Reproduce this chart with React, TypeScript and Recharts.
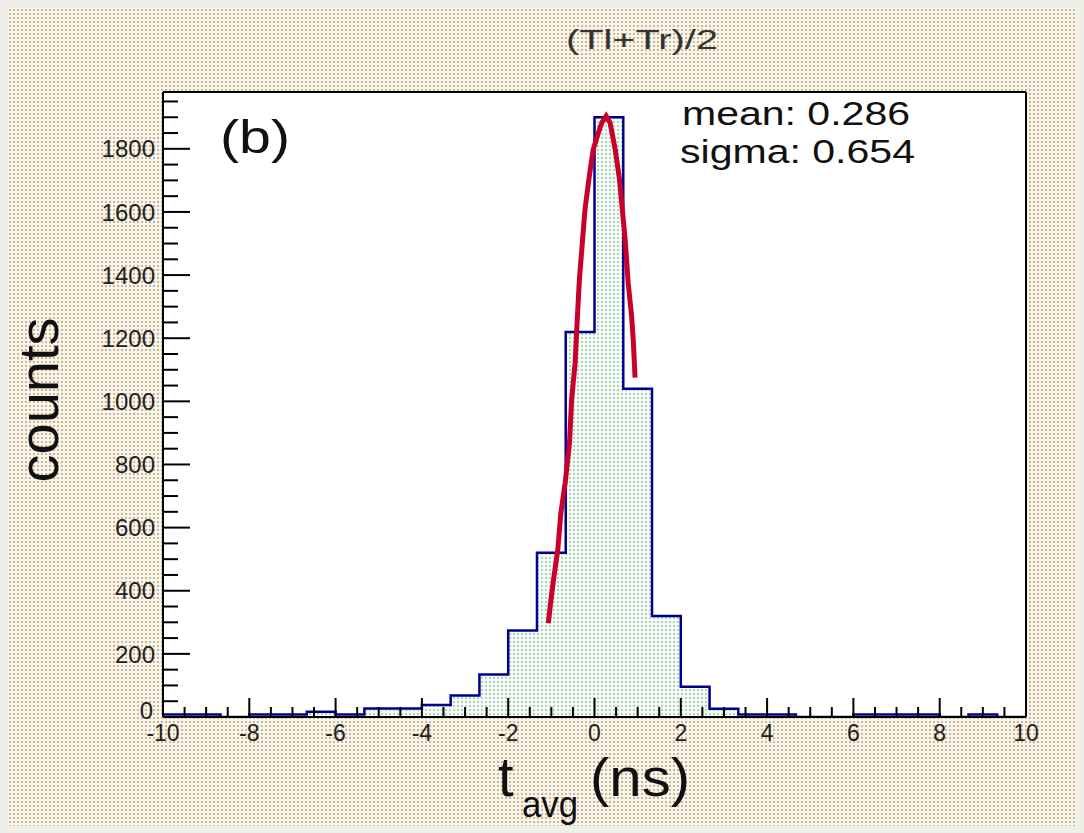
import React from 'react';
import { ComposedChart, Area, Line, XAxis, YAxis, CartesianGrid, ReferenceLine } from 'recharts';

// Histogram bins (lower edges, width 2/3 ns) and counts
const binStarts = [
  -10, -9.333, -8.667, -8, -7.333, -6.667, -6, -5.333, -4.667, -4,
  -3.333, -2.667, -2, -1.333, -0.667, 0, 0.667, 1.333, 2, 2.667,
  3.333, 4, 4.667, 5.333, 6, 6.667, 7.333, 8, 8.667, 9.333,
];
const binEnd = 10;
const counts = [
  8, 8, 0, 8, 8, 17, 8, 27, 27, 38,
  68, 135, 274, 520, 1220, 1900, 1040, 320, 96, 26,
  8, 8, 0, 0, 8, 8, 8, 0, 8, 0,
];

// Gaussian fit curve
const fitX = [
  -1.07, -1.01, -0.94, -0.85, -0.78, -0.68, -0.58, -0.53, -0.45, -0.4,
  -0.35, -0.27, -0.22, -0.12, -0.03, 0.09, 0.17, 0.27, 0.36, 0.48,
  0.58, 0.63, 0.71, 0.78, 0.86, 0.9, 0.94,
];
const fitY = [
  297, 371, 445, 530, 646, 741, 868, 1005, 1120, 1259,
  1386, 1523, 1608, 1714, 1798, 1851, 1883, 1904, 1883, 1798,
  1703, 1629, 1513, 1376, 1270, 1190, 1075,
];

// Axis ticks
const xTicks = [
  -10, -9.5, -9, -8.5, -8, -7.5, -7, -6.5, -6, -5.5, -5, -4.5, -4, -3.5, -3, -2.5, -2, -1.5, -1, -0.5,
  0, 0.5, 1, 1.5, 2, 2.5, 3, 3.5, 4, 4.5, 5, 5.5, 6, 6.5, 7, 7.5, 8, 8.5, 9, 9.5, 10,
];
const xMajorLabels = [-10, -8, -6, -4, -2, 0, 2, 4, 6, 8, 10];
const yTicks = [
  0, 50, 100, 150, 200, 250, 300, 350, 400, 450, 500, 550, 600, 650, 700, 750, 800, 850, 900, 950,
  1000, 1050, 1100, 1150, 1200, 1250, 1300, 1350, 1400, 1450, 1500, 1550, 1600, 1650, 1700, 1750, 1800, 1850, 1900, 1950,
];
const yMajorLabels = [0, 200, 400, 600, 800, 1000, 1200, 1400, 1600, 1800];

const histData = [
  ...binStarts.map((x, i) => ({ x, y: counts[i] })),
  { x: binEnd, y: counts[counts.length - 1] },
];
const fitData = fitX.map((x, i) => ({ x, y: fitY[i] }));

const W = 1068;
const H = 818;
const FONT = '"Liberation Sans", Arial, Helvetica, sans-serif';

const XTick = (props: any) => {
  const { x, y, payload } = props;
  const v = payload.value;
  const major = xMajorLabels.includes(v);
  return (
    <g>
      <line x1={x} x2={x} y1={y} y2={y - (major ? 19 : 10)} stroke="#000" strokeWidth={2} />
      {major && (
        <text x={x} y={y + 24} textAnchor="middle" fontSize={23} fill="#222" fontFamily={FONT}>
          {v}
        </text>
      )}
    </g>
  );
};

const YTick = (props: any) => {
  const { x, y, payload } = props;
  const v = payload.value;
  const major = yMajorLabels.includes(v);
  const isZero = v === 0;
  return (
    <g>
      <line x1={x} x2={x + (major ? 27 : 15)} y1={y} y2={y} stroke="#000" strokeWidth={2} />
      {major && (
        <text
          x={x - (isZero ? 10 : 8)}
          y={y - (isZero ? 7 : 0)}
          dy="0.36em"
          textAnchor="end"
          fontSize={24}
          fill="#222"
          fontFamily={FONT}
        >
          {v}
        </text>
      )}
    </g>
  );
};

export default function App() {
  return (
    <>
      <style>{`body{background:#efefea;}`}</style>
      <div
        style={{
          position: 'relative',
          width: W,
          height: H,
          backgroundColor: '#f8f5ee',
          backgroundImage: 'radial-gradient(circle at 2px 2px, #cdb78c 0.8px, rgba(248,245,238,0) 1.4px)',
          backgroundSize: '4px 4px',
        }}
      >
        <ComposedChart
          width={W}
          height={H}
          margin={{ top: 84, right: 50, bottom: 59, left: 0 }}
        >
          <defs>
            <pattern id="greenDots" width="4" height="4" patternUnits="userSpaceOnUse">
              <rect width="4" height="4" fill="#f6faf6" />
              <circle cx="2" cy="2" r="0.9" fill="#8fc4a0" />
            </pattern>
          </defs>
          <CartesianGrid fill="#ffffff" horizontal={false} vertical={false} stroke="none" />
          <Area
            data={histData}
            dataKey="y"
            type="stepAfter"
            stroke="#00008f"
            strokeWidth={2.5}
            fill="url(#greenDots)"
            fillOpacity={1}
            isAnimationActive={false}
            dot={false}
            activeDot={false}
          />
          <Line
            data={fitData}
            dataKey="y"
            type="linear"
            stroke="#c8002c"
            strokeWidth={5}
            dot={false}
            activeDot={false}
            isAnimationActive={false}
          />
          <ReferenceLine y={1980} stroke="#000" strokeWidth={2} />
          <ReferenceLine x={10} stroke="#000" strokeWidth={2} />
          <XAxis
            dataKey="x"
            type="number"
            domain={[-10, 10]}
            ticks={xTicks}
            interval={0}
            height={50}
            tickLine={false}
            tickSize={0}
            tickMargin={0}
            tick={(p: any) => <XTick {...p} />}
            axisLine={{ stroke: '#000', strokeWidth: 2 }}
            allowDataOverflow
          />
          <YAxis
            type="number"
            domain={[0, 1980]}
            ticks={yTicks}
            interval={0}
            width={155}
            tickLine={false}
            tickSize={0}
            tickMargin={0}
            tick={(p: any) => <YTick {...p} />}
            axisLine={{ stroke: '#000', strokeWidth: 2 }}
            allowDataOverflow
          />
        </ComposedChart>
        <svg
          width={W}
          height={H}
          style={{ position: 'absolute', left: 0, top: 0, pointerEvents: 'none' }}
          fontFamily={FONT}
        >
          <text x={558} y={41} fontSize={27} fill="#333" textLength={152} lengthAdjust="spacingAndGlyphs">
            (Tl+Tr)/2
          </text>
          <text x={212} y={145} fontSize={46} fill="#111" textLength={70} lengthAdjust="spacingAndGlyphs">
            (b)
          </text>
          <text x={674} y={117} fontSize={33} fill="#111" textLength={228} lengthAdjust="spacingAndGlyphs">
            mean: 0.286
          </text>
          <text x={672} y={155} fontSize={33} fill="#111" textLength={235} lengthAdjust="spacingAndGlyphs">
            sigma: 0.654
          </text>
          <text
            x={50}
            y={392}
            fontSize={56}
            fill="#111"
            textAnchor="middle"
            transform="rotate(-90 50 392)"
            textLength={165}
            lengthAdjust="spacingAndGlyphs"
          >
            counts
          </text>
          <text x={490} y={788} fontSize={56} fill="#111">
            t
          </text>
          <text x={514} y={809} fontSize={36} fill="#111" textLength={56} lengthAdjust="spacingAndGlyphs">
            avg
          </text>
          <text x={582} y={788} fontSize={54} fill="#111" textLength={100} lengthAdjust="spacingAndGlyphs">
            (ns)
          </text>
        </svg>
      </div>
    </>
  );
}
